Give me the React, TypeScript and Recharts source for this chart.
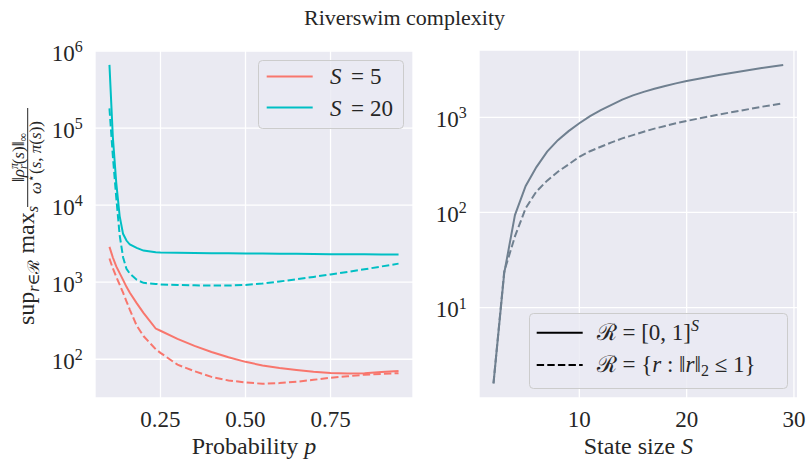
import React from "react";
import { LineChart, Line, XAxis, YAxis, CartesianGrid } from "recharts";

// left panel: probability p vs complexity, two state sizes, two reward sets
const P = [0.1, 0.11, 0.12, 0.13, 0.14, 0.15, 0.16, 0.18, 0.2, 0.236, 0.25, 0.3, 0.35, 0.4, 0.45, 0.5, 0.55, 0.6, 0.65, 0.7, 0.75, 0.8, 0.85, 0.9, 0.95];
const S5_CUBE = [2870, 2090, 1600, 1310, 1070, 870, 730, 535, 400, 250, 234, 184, 149, 124, 106, 92.5, 83, 77, 72.4, 68.7, 66.2, 65.3, 66, 68.2, 70.5];
const S5_BALL = [2030, 1510, 1175, 930, 730, 565, 438, 273, 200, 135, 121, 85, 70, 59, 53, 50, 48, 49, 51, 54, 57.5, 60, 63, 64.5, 66];
const S20_CUBE = [660000, 76000, 19500, 7200, 4240, 3470, 3080, 2790, 2570, 2450, 2420, 2400, 2390, 2380, 2370, 2360, 2350, 2340, 2330, 2320, 2310, 2300, 2295, 2290, 2280];
const S20_BALL = [180000, 43000, 12500, 4070, 2110, 1490, 1290, 1075, 980, 950, 935, 920, 910, 905, 905, 920, 960, 1020, 1090, 1170, 1260, 1360, 1470, 1600, 1740];

// right panel: state size S
const SIZES = [2, 3, 4, 5, 6, 7, 8, 9, 10, 11, 12, 13, 14, 15, 16, 17, 18, 19, 20, 21, 22, 23, 24, 25, 26, 27, 28, 29];
const CUBE = [1.6, 23, 94, 190, 300, 435, 575, 715, 865, 1030, 1190, 1350, 1530, 1700, 1850, 1990, 2130, 2270, 2400, 2525, 2650, 2780, 2905, 3030, 3160, 3285, 3410, 3540];
const BALL = [1.6, 24, 56, 111, 166, 216, 268, 320, 385, 440, 490, 545, 600, 650, 705, 760, 810, 865, 915, 965, 1015, 1070, 1120, 1170, 1230, 1290, 1345, 1400];

const LEFT_XTICKS = [0.25, 0.5, 0.75];
const LEFT_YTICKS = [100, 1000, 10000, 100000, 1000000];
const RIGHT_XTICKS = [10, 20, 30];
const RIGHT_YTICKS = [10, 100, 1000];

const leftData = P.map((p, i) => ({ p, s5: S5_CUBE[i], s5b: S5_BALL[i], s20: S20_CUBE[i], s20b: S20_BALL[i] }));
const rightData = SIZES.map((s, i) => ({ s, cube: CUBE[i], ball: BALL[i] }));

const FONT = "Liberation Serif, DejaVu Serif, serif";
const TXT = "#262626";
const BG = "#EAEAF2";
const RED = "#F8766D";
const CYAN = "#00BFC4";
const SLATE = "#708090";
const DASH = "7.4 3.2";
const fs = { fontFamily: FONT };

const TOP = 50;
const BOTTOM = 398;

const makeYTick = (plotLeft: number) => (props: any) => {
  const { y, payload } = props;
  const exp = Math.round(Math.log10(payload.value));
  return (
    <text x={plotLeft - 12.3} y={y + 9.7} textAnchor="end" style={fs} fontSize={23} fill={TXT}>
      10<tspan dy={-8.7} fontSize={16}>{exp}</tspan>
    </text>
  );
};

const makeXTick = (fmt: (v: number) => string) => (props: any) => {
  const { x, payload } = props;
  return (
    <text x={x} y={BOTTOM + 28.7} textAnchor="middle" style={fs} fontSize={23} fill={TXT}>
      {fmt(payload.value)}
    </text>
  );
};

export default function App() {
  return (
    <div style={{ position: "absolute", left: 0, top: 0, width: 809, height: 465, background: "#fff", fontFamily: FONT }}>
      <div style={{ position: "absolute", left: 0, top: 0 }}>
        <LineChart width={420} height={465} data={leftData} margin={{ top: TOP, right: 7, bottom: 0, left: 0 }}>
          <CartesianGrid fill={BG} stroke="#fff" strokeWidth={1.3} />
          <XAxis
            dataKey="p"
            type="number"
            domain={[0.0575, 0.9925]}
            ticks={LEFT_XTICKS}
            height={67}
            axisLine={false}
            tickLine={false}
            allowDataOverflow
            tick={makeXTick((v) => v.toFixed(2))}
          />
          <YAxis
            type="number"
            scale="log"
            domain={[31.4, 1030000]}
            ticks={LEFT_YTICKS}
            width={95}
            axisLine={false}
            tickLine={false}
            allowDataOverflow
            tick={makeYTick(95)}
          />
          <Line dataKey="s5" stroke={RED} strokeWidth={2} dot={false} isAnimationActive={false} />
          <Line dataKey="s5b" stroke={RED} strokeWidth={2} strokeDasharray={DASH} dot={false} isAnimationActive={false} />
          <Line dataKey="s20" stroke={CYAN} strokeWidth={2} dot={false} isAnimationActive={false} />
          <Line dataKey="s20b" stroke={CYAN} strokeWidth={2} strokeDasharray={DASH} dot={false} isAnimationActive={false} />
        </LineChart>
      </div>
      <div style={{ position: "absolute", left: 410, top: 0 }}>
        <LineChart width={399} height={465} data={rightData} margin={{ top: TOP, right: 11.3, bottom: 0, left: 0 }}>
          <CartesianGrid fill={BG} stroke="#fff" strokeWidth={1.3} />
          <XAxis
            dataKey="s"
            type="number"
            domain={[0.65, 30.35]}
            ticks={RIGHT_XTICKS}
            height={67}
            axisLine={false}
            tickLine={false}
            allowDataOverflow
            tick={makeXTick((v) => String(v))}
          />
          <YAxis
            type="number"
            scale="log"
            domain={[1.125, 5090]}
            ticks={RIGHT_YTICKS}
            width={69}
            axisLine={false}
            tickLine={false}
            allowDataOverflow
            tick={makeYTick(69)}
          />
          <Line dataKey="cube" stroke={SLATE} strokeWidth={2} dot={false} isAnimationActive={false} />
          <Line dataKey="ball" stroke={SLATE} strokeWidth={2} strokeDasharray={DASH} dot={false} isAnimationActive={false} />
        </LineChart>
      </div>
      <svg width={809} height={465} style={{ position: "absolute", left: 0, top: 0, pointerEvents: "none", fontFamily: FONT }} fill={TXT}>
        <text x={404.5} y={25} textAnchor="middle" fontSize={22} style={fs}>Riverswim complexity</text>

        {/* axis labels */}
        <text x={254} y={453.5} textAnchor="middle" fontSize={24} style={fs}>
          Probability <tspan fontStyle="italic">p</tspan>
        </text>
        <text x={638.4} y={453.5} textAnchor="middle" fontSize={24} style={fs}>
          State size <tspan fontStyle="italic">S</tspan>
        </text>

        {/* y label, rotated */}
        <g transform="translate(33.5, 325) rotate(-90)">
          <text x={0} y={0} fontSize={24} style={fs}>
            sup<tspan fontSize={16} dy={5}><tspan fontStyle="italic">r</tspan>∈ℛ</tspan>
            <tspan fontSize={24} dy={-5}> max</tspan>
            <tspan fontSize={16} dy={4} fontStyle="italic">s</tspan>
          </text>
          <line x1={118} x2={217} y1={-5.8} y2={-5.8} stroke={TXT} strokeWidth={1} />
          <text x={167.5} y={-10} textAnchor="middle" fontSize={17} style={fs}>
            ‖<tspan fontStyle="italic">ρ</tspan>
            <tspan fontSize={12} dy={-6} fontStyle="italic">π</tspan>
            <tspan fontSize={12} dy={9} dx={-6} fontStyle="italic">r</tspan>
            <tspan fontSize={17} dy={-3}>(<tspan fontStyle="italic">s</tspan>)‖</tspan>
            <tspan fontSize={12} dy={3}>∞</tspan>
          </text>
          <text x={167.5} y={7} textAnchor="middle" fontSize={17} style={fs}>
            <tspan fontStyle="italic">ω</tspan>
            <tspan fontSize={12} dy={-6}>⋆</tspan>
            <tspan fontSize={17} dy={6}>(<tspan fontStyle="italic">s</tspan>, <tspan fontStyle="italic">π</tspan>(<tspan fontStyle="italic">s</tspan>))</tspan>
          </text>
        </g>

        {/* left legend */}
        <rect x={258.5} y={60.5} width={145} height={68} rx={4} fill="rgba(234,234,242,0.8)" stroke="#cccccc" strokeWidth={1} />
        <line x1={266.7} x2={312.7} y1={76.5} y2={76.5} stroke={RED} strokeWidth={2} />
        <line x1={266.7} x2={312.7} y1={107.5} y2={107.5} stroke={CYAN} strokeWidth={2} />
        <text y={84.3} fontSize={23} style={fs}>
          <tspan x={330} fontStyle="italic">S</tspan>
          <tspan x={351}>=</tspan>
          <tspan x={370}>5</tspan>
        </text>
        <text y={115.5} fontSize={23} style={fs}>
          <tspan x={330} fontStyle="italic">S</tspan>
          <tspan x={351}>=</tspan>
          <tspan x={370}>20</tspan>
        </text>

        {/* right legend */}
        <rect x={529.5} y={313.5} width={258} height={75} rx={4} fill="rgba(234,234,242,0.8)" stroke="#cccccc" strokeWidth={1} />
        <line x1={536.7} x2={582.7} y1={332.7} y2={332.7} stroke="#000" strokeWidth={2} />
        <line x1={536.7} x2={582.7} y1={365} y2={365} stroke="#000" strokeWidth={2} strokeDasharray={DASH} />
        <text x={596.7} y={339.5} fontSize={23} style={fs}>
          ℛ = [0, 1]<tspan fontSize={16} dy={-9} fontStyle="italic">S</tspan>
        </text>
        <text x={596.7} y={372} fontSize={23} style={fs}>
          ℛ = {"{"}<tspan fontStyle="italic">r</tspan> : ‖<tspan fontStyle="italic">r</tspan>‖<tspan fontSize={16} dy={4}>2</tspan>
          <tspan dy={-4}> ≤ 1{"}"}</tspan>
        </text>
      </svg>
    </div>
  );
}
